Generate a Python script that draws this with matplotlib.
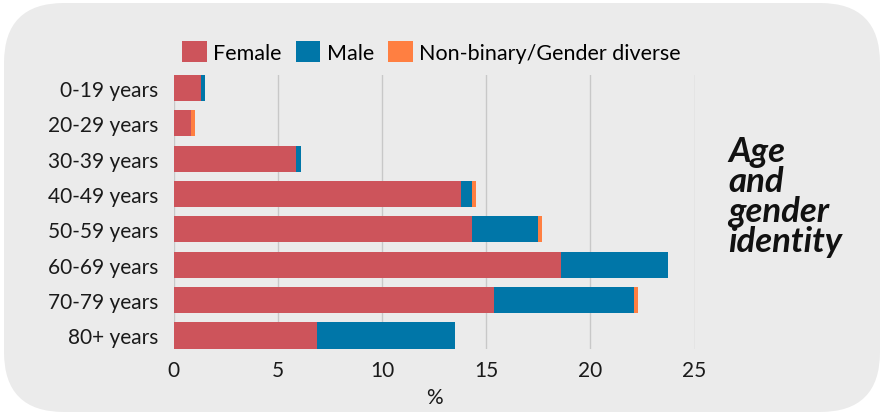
import matplotlib
matplotlib.use("Agg")
import matplotlib.pyplot as plt
from matplotlib.patches import FancyBboxPatch, Patch
import numpy as np

categories = ["0-19 years", "20-29 years", "30-39 years", "40-49 years",
              "50-59 years", "60-69 years", "70-79 years", "80+ years"]
female = [1.3, 0.85, 5.9, 13.8, 14.3, 18.6, 15.4, 6.9]
male = [0.2, 0.0, 0.2, 0.5, 3.2, 5.1, 6.7, 6.6]
nonbinary = [0.0, 0.17, 0.0, 0.2, 0.2, 0.0, 0.2, 0.0]
series_names = ["Female", "Male", "Non-binary/Gender diverse"]
xticks = [0, 5, 10, 15, 20, 25]

colors = ["#CD545B", "#0076A8", "#FF7F41"]
bg = "#EBEBEB"

plt.rcParams['font.family'] = ['Lato', 'DejaVu Sans']

W, H = 880, 414
fig = plt.figure(figsize=(W / 100, H / 100), dpi=100)
fig.patch.set_facecolor("white")

box = FancyBboxPatch((4, 1), 876, 409, boxstyle="round,pad=0,rounding_size=60",
                     transform=None, facecolor=bg, edgecolor="none", zorder=-10)
fig.patches.append(box)

ax_left, ax_right = 173.5 / W, 694.6 / W
ax_top, ax_bot = 1 - 76 / H, 1 - 349.5 / H
ax = fig.add_axes([ax_left, ax_bot, ax_right - ax_left, ax_top - ax_bot])
ax.set_facecolor("none")
ax.set_zorder(5)

y = np.arange(len(categories))
h = 0.74
f = np.array(female)
m = np.array(male)
nb = np.array(nonbinary)
ax.barh(y, f, height=h, color=colors[0], zorder=3)
ax.barh(y, m, left=f, height=h, color=colors[1], zorder=3)
ax.barh(y, nb, left=f + m, height=h, color=colors[2], zorder=3)

ax.set_ylim(len(categories) - 1 + h / 2, -h / 2)
ax.set_xlim(0, 25)
ax.set_xticks(xticks)
ax.set_xticklabels([str(t) for t in xticks])
ax.set_yticks(y)
ax.set_yticklabels(categories)
ax.grid(axis="x", color="#C8C8C8", linewidth=1, zorder=1)
ax.set_axisbelow(True)
for s in ax.spines.values():
    s.set_visible(False)
ax.tick_params(axis="both", length=0, labelsize=15, colors="#1a1a1a")
ax.tick_params(axis="y", pad=11)
ax.tick_params(axis="x", pad=8)
ax.set_xlabel("%", fontsize=15, color="#1a1a1a", labelpad=5)

handles = [Patch(facecolor=c, edgecolor="none") for c in colors]
fig.legend(handles, series_names, loc="center left",
           bbox_to_anchor=(182 / W, 1 - 53 / H), ncol=3, frameon=False,
           fontsize=15.5, handlelength=1.15, handleheight=1.15,
           handletextpad=0.3, columnspacing=0.65, borderaxespad=0, borderpad=0)

fig.text(728 / W, 1 - 197 / H, "Age\nand\ngender\nidentity", fontsize=25,
         fontweight="bold", style="italic", color="#111111",
         ha="left", va="center", linespacing=0.92)

fig.savefig("out.png", dpi=100, facecolor="white")
